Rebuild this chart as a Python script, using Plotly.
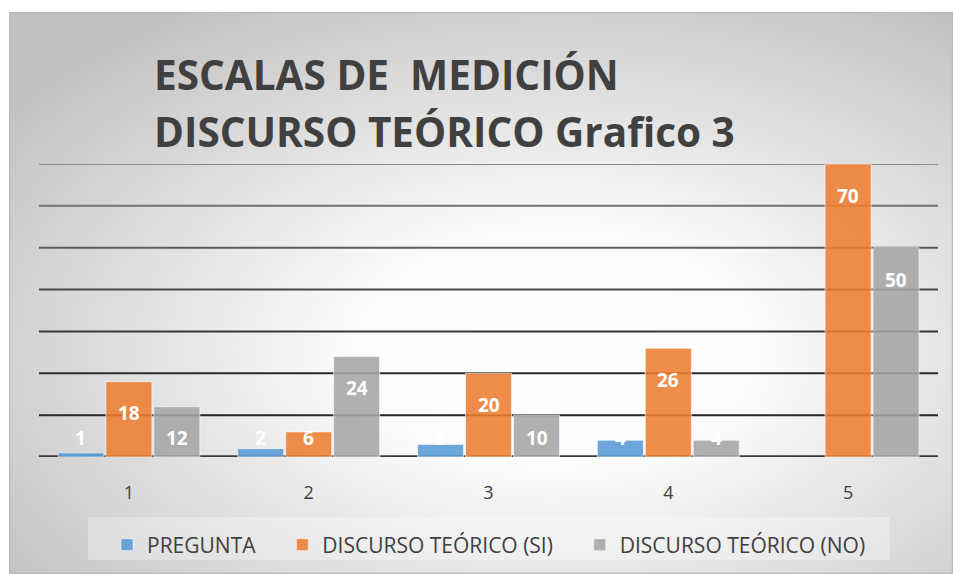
import base64
import plotly.graph_objects as go

categorias = ["1", "2", "3", "4", "5"]
pregunta = [1, 2, 3, 4, None]
teorico_si = [18, 6, 20, 26, 70]
teorico_no = [12, 24, 10, 4, 50]

series = [
    ("PREGUNTA", pregunta, "rgba(91,155,213,0.9)"),
    ("DISCURSO TEÓRICO (SI)", teorico_si, "rgba(237,125,49,0.88)"),
    ("DISCURSO TEÓRICO (NO)", teorico_no, "rgba(165,165,165,0.88)"),
]

W, H = 953, 574
L, R, T, B = 39, 15, 164, 117
pw, ph = W - L - R, H - T - B

# radial grey background like the Excel chart area
svg = f"""<svg xmlns='http://www.w3.org/2000/svg' width='944' height='562' viewBox='0 0 944 562'>
<defs><radialGradient id='g' cx='0.58' cy='0.6' r='0.72'>
<stop offset='0' stop-color='#ffffff'/><stop offset='0.3' stop-color='#fbfbfb'/>
<stop offset='1' stop-color='#c2c2c2'/></radialGradient></defs>
<rect x='0.5' y='0.5' width='943' height='561' fill='url(#g)' stroke='#b8b8b8' stroke-width='1.5'/>
</svg>"""
bg = "data:image/svg+xml;base64," + base64.b64encode(svg.encode()).decode()

fig = go.Figure()
for name, vals, col in series:
    fig.add_trace(go.Bar(x=categorias, y=vals, name=name + "\u00a0" * 4,
                         marker=dict(color=col, line=dict(color="rgba(255,255,255,0.6)", width=1))))

# gridlines, darker toward the bottom
grid_cols = ["#3a3a3a", "#262626", "#2c2c2c", "#383838", "#484848", "#5c5c5c", "#727272", "#8a8a8a"]
for i, v in enumerate(range(0, 80, 10)):
    fig.add_shape(type="line", xref="paper", yref="y", x0=0, x1=1, y0=v, y1=v,
                  line=dict(color=grid_cols[i], width=3.5 if v == 0 else 2), layer="below")

# legend box
fig.add_shape(type="rect", xref="paper", yref="paper",
              x0=(88 - L) / pw, x1=(890 - L) / pw, y0=(H - B - 560) / ph, y1=(H - B - 517) / ph,
              fillcolor="rgba(255,255,255,0.3)", line=dict(width=0), layer="below")

# data labels (white, bold, near the top of each bar)
for i, (name, vals, col) in enumerate(series):
    for j, v in enumerate(vals):
        if v is None:
            continue
        fig.add_annotation(x=j, y=max(v - 7.6, 4.5), text=str(v), showarrow=False,
                           xshift=(i - 1) * 48, yanchor="middle",
                           font=dict(family="Open Sans", size=19, color="white", weight="bold"))

title_lines = ["ESCALAS DE  MEDICIÓN", "DISCURSO TEÓRICO Grafico 3"]
for k, line in enumerate(title_lines):
    fig.add_annotation(xref="paper", yref="paper", x=(152 - L) / pw, y=(H - B - (74 + 57 * k)) / ph,
                       xanchor="left", yanchor="middle", align="left", showarrow=False, text=line,
                       font=dict(family="Open Sans", size=40.5, color="#404040", weight="bold"))

fig.add_layout_image(source=bg, xref="paper", yref="paper",
                     x=(9 - L) / pw, y=(H - B - 12) / ph, sizex=(W - 9) / pw, sizey=(H - 12) / ph,
                     xanchor="left", yanchor="top", sizing="stretch", layer="below")

fig.update_layout(
    width=W, height=H,
    margin=dict(l=L, r=R, t=T, b=B, autoexpand=False),
    paper_bgcolor="white", plot_bgcolor="rgba(0,0,0,0)",
    barmode="group", bargap=0.2, bargroupgap=0.04,
    font=dict(family="Open Sans", color="#404040"),
    xaxis=dict(type="category", showgrid=False, showline=False, ticks="", ticklabelstandoff=23,
               tickfont=dict(size=18, color="#404040")),
    yaxis=dict(range=[0, 70], showgrid=False, zeroline=False, showticklabels=False),
    legend=dict(orientation="h", x=0.5 + 11 / pw, xanchor="center", y=(H - B - 545) / ph, yanchor="middle",
                bgcolor="rgba(0,0,0,0)", font=dict(size=21, color="#404040"),
                itemwidth=30, traceorder="normal"),
    showlegend=True,
)

fig.write_html("out.html", config={"displayModeBar": False},
               post_script="document.body.style.margin='0';")
